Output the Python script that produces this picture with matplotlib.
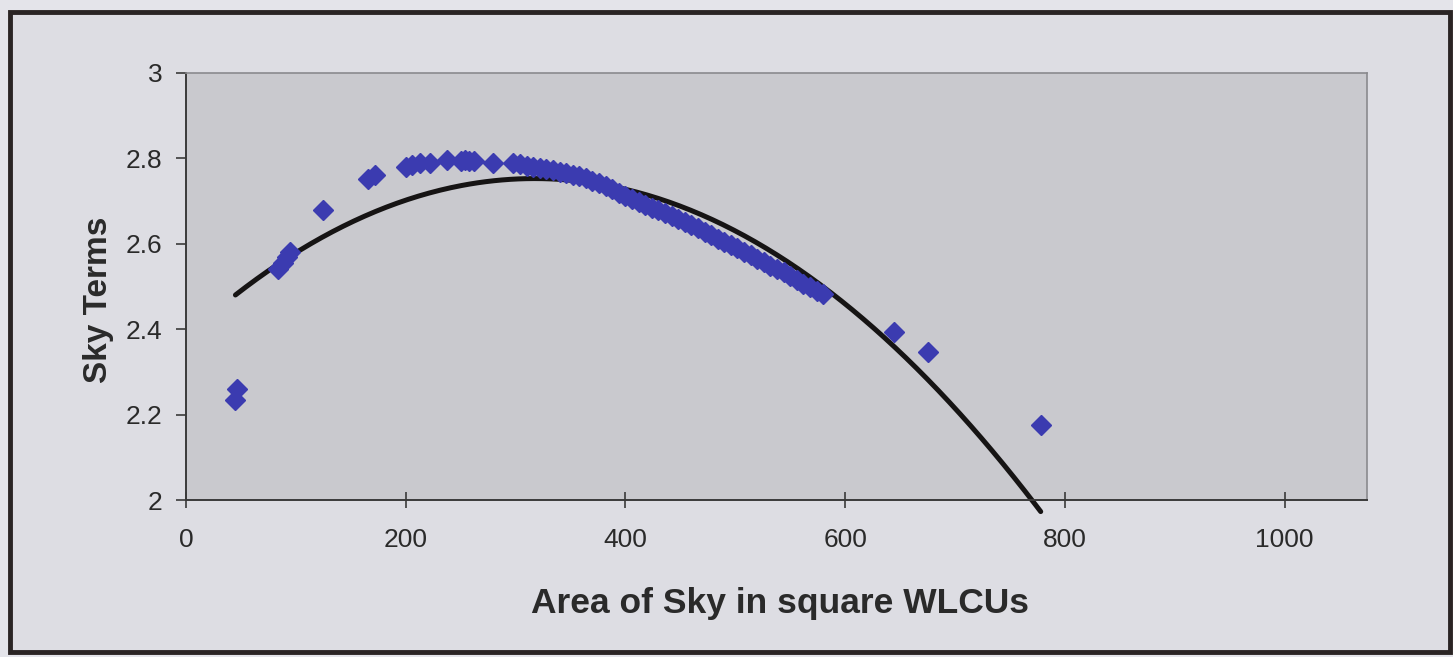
import matplotlib

matplotlib.use("Agg")
import matplotlib.pyplot as plt
from matplotlib.patches import Rectangle
import numpy as np

# sky area (square WLCUs) and sky terms
area = [45, 46, 84, 88, 92, 95, 125, 166, 172, 200, 206, 213, 222, 238,
        250, 254, 258, 262, 279,
        298, 304, 310, 316, 322, 328, 334, 340, 346, 352, 358, 364, 370,
        376, 382, 388, 394, 400, 406, 412, 418, 424, 430, 436, 442, 448,
        454, 460, 466, 472, 478, 484, 490, 496, 502, 508, 514, 520, 526,
        532, 538, 544, 550, 556, 562, 568, 574, 580,
        644, 675, 778]
sky_terms = [2.235, 2.26, 2.54, 2.555, 2.57, 2.58, 2.68, 2.752, 2.76, 2.78,
             2.785, 2.79, 2.79, 2.796, 2.795, 2.797, 2.795, 2.793, 2.79,
             2.790, 2.786, 2.783, 2.780, 2.778, 2.775, 2.772, 2.769, 2.766,
             2.762, 2.758, 2.753, 2.748, 2.742, 2.735, 2.728, 2.720, 2.713,
             2.705, 2.698, 2.692, 2.685, 2.678, 2.672, 2.664, 2.657, 2.650,
             2.643, 2.636, 2.628, 2.620, 2.612, 2.605, 2.597, 2.589, 2.581,
             2.573, 2.565, 2.557, 2.549, 2.541, 2.533, 2.524, 2.516, 2.507,
             2.498, 2.490, 2.482,
             2.394, 2.347, 2.176]

x_ticks = [0, 200, 400, 600, 800, 1000]
y_ticks = [2, 2.2, 2.4, 2.6, 2.8, 3]

FONT = ["Liberation Sans", "DejaVu Sans"]
plt.rcParams["font.family"] = FONT

fig = plt.figure(figsize=(14.53, 6.57), dpi=100)
fig.patch.set_facecolor("#e4e4ea")

# chart area frame
fig.patches.append(Rectangle((10 / 1453, 1 - 652 / 657), 1440 / 1453, 640 / 657,
                             transform=fig.transFigure, facecolor="#dddde3",
                             edgecolor="#2a2424", linewidth=3.5, zorder=-10))

ax = fig.add_axes([186 / 1453, 1 - 500 / 657, 1181 / 1453, 427 / 657])
ax.set_facecolor("#c9c9ce")

x = np.asarray(area, dtype=float)
y = np.asarray(sky_terms, dtype=float)

# 2nd order polynomial trend, as in the original spreadsheet chart
coeffs = np.polyfit(x, y, 2)
xs = np.linspace(x.min(), x.max(), 300)
ax.plot(xs, np.polyval(coeffs, xs), color="#161414", linewidth=3.6,
        solid_capstyle="round", zorder=2, clip_on=False)

ax.plot(x, y, linestyle="none", marker="D", markersize=10,
        markerfacecolor="#3b3bb0", markeredgecolor="#3b3bb0", zorder=3)

ax.set_xlim(0, 1075)
ax.set_ylim(2, 3)
ax.set_xticks(x_ticks)
ax.set_yticks(y_ticks)
ax.set_yticklabels([f"{v:g}" for v in y_ticks])

for side in ["top", "right"]:
    ax.spines[side].set_color("#8a8a8e")
    ax.spines[side].set_linewidth(1.2)
for side in ["left", "bottom"]:
    ax.spines[side].set_color("#3a3a3a")
    ax.spines[side].set_linewidth(1.4)

ax.tick_params(axis="x", direction="inout", length=12, width=1.2,
               colors="#3a3a3a", labelcolor="#2a2a2a", labelsize=19, pad=14)
ax.tick_params(axis="y", direction="out", length=7, width=1.2,
               colors="#3a3a3a", labelcolor="#2a2a2a", labelsize=19, pad=10)

ax.set_xlabel("Area of Sky in square WLCUs", fontsize=25.5, fontweight="bold",
              color="#2a2a2a")
ax.set_ylabel("Sky Terms", fontsize=24, fontweight="bold", color="#2a2a2a")
# label centres as placed in the original (pixels -> axes fraction)
ax.xaxis.set_label_coords((780 - 186) / 1181, (500 - 603) / 427)
ax.yaxis.set_label_coords((98 - 186) / 1181, (500 - 300) / 427)
ax.xaxis.label.set_va("center")
ax.yaxis.label.set_va("center")

fig.savefig("out.png", dpi=100, facecolor=fig.get_facecolor())
